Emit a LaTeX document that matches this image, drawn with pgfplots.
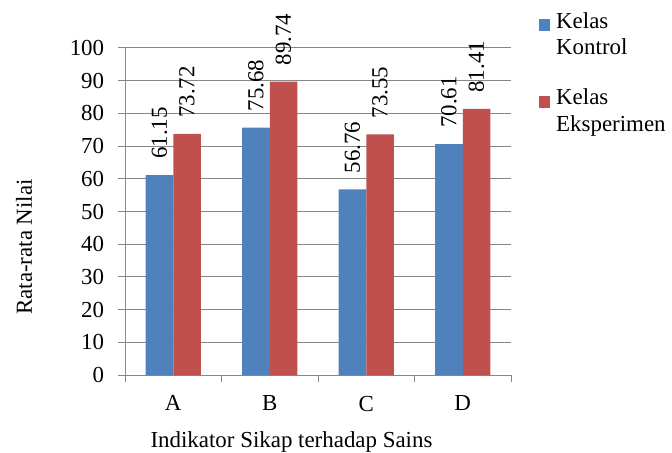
\documentclass[border=0pt]{standalone}
\usepackage{fontspec}
\setmainfont{Liberation Serif}
\newfontfamily\tnr{Liberation Serif}
\usepackage{pgfplots}
\pgfplotsset{compat=1.18}
\pgfkeys{/pgf/number format/assume math mode=true}
\definecolor{kontrol}{HTML}{4F81BD}
\definecolor{eksp}{HTML}{C0504D}
\definecolor{gridgray}{HTML}{878787}
\newcommand{\cf}{\tnr\fontsize{23}{27}\selectfont}
\begin{document}
\cf
\begin{tikzpicture}[font=\cf]
\begin{axis}[
    scale only axis,
    width=386bp, height=327bp,
    xmin=-0.5, xmax=3.5, ymin=0, ymax=100,
    enlargelimits=false,
    clip=false,
    ybar, bar width=0.285,
    axis x line*=bottom, axis y line*=left,
    axis line style={gridgray, line width=1bp},
    ymajorgrids, grid style={gridgray, line width=1bp},
    tick align=outside,
    tick style={gridgray, line width=1bp},
    major tick length=7bp, minor tick length=7bp,
    ytick={0,10,...,100},
    xtick={0,1,2,3}, xticklabels={A,B,C,D},
    minor xtick={-0.5,0.5,1.5,2.5,3.5},
    major x tick style={draw=none},
    ticklabel style={font=\cf},
    yticklabel style={xshift=-6bp},
    xticklabel style={yshift=-6bp},
    nodes near coords={\pgfmathprintnumber[fixed,fixed zerofill,precision=2]{\pgfplotspointmeta}},
    every node near coord/.append style={rotate=90, anchor=west, inner xsep=16bp, black, font=\cf},
    legend style={at={(1,1)}, anchor=north west, xshift=28bp, yshift=36bp,
        draw=none, fill=none, inner sep=0pt, row sep=30bp, column sep=6bp,
        font=\cf,
        cells={align=left, anchor=west}, nodes={inner sep=0pt}},
]
\addplot[fill=kontrol, draw=none, bar shift=-0.1425,
    legend image code/.code={\path (0bp,-8bp); \fill[kontrol] (0bp,4bp) rectangle (11bp,16bp);}]
    coordinates {(0,61.15) (1,75.68) (2,56.76) (3,70.61)};
\addlegendentry{Kelas\\Kontrol}
\addplot[fill=eksp, draw=none, bar shift=0.1425,
    legend image code/.code={\path (0bp,-8bp); \fill[eksp] (0bp,4bp) rectangle (11bp,16bp);}]
    coordinates {(0,73.72) (1,89.74) (2,73.55) (3,81.41)};
\addlegendentry{Kelas\\Eksperimen}
\end{axis}
\node[anchor=base] at (166.5bp,-72bp) {Indikator Sikap terhadap Sains};
\node[rotate=90, anchor=base] at (-93bp,128bp) {Rata-rata Nilai};
\pgfresetboundingbox
\path (-125bp,-78bp) rectangle (547bp,375bp);
\end{tikzpicture}
\end{document}
